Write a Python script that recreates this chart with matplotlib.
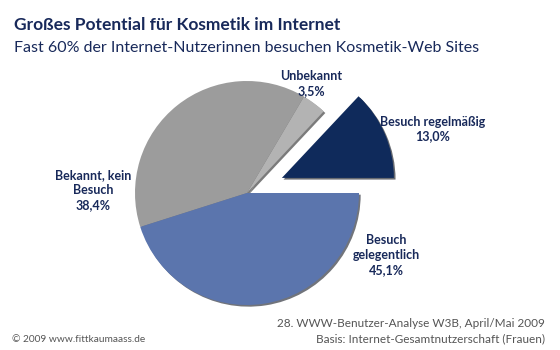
import matplotlib.pyplot as plt

# Data (percent of female internet users)
labels = ['Besuch regelmäßig', 'Unbekannt', 'Bekannt, kein\nBesuch', 'Besuch\ngelegentlich']
values = [13.0, 3.5, 38.4, 45.1]
colors = ['#0f2a5b', '#b3b3b3', '#9c9c9c', '#5b75ad']
explode = [38, 0, 0, 0]

plt.rcParams['font.family'] = ['Lato', 'DejaVu Sans']
navy = '#18295a'

fig = plt.figure(figsize=(5.6, 3.5), dpi=100)
ax = fig.add_axes([0, 0, 1, 1])

# work in pixel units, y pointing up
wedges, _ = ax.pie(values, colors=colors, explode=explode, startangle=0,
                   counterclock=True, center=(247, 157), radius=112,
                   shadow={'ox': 1.2, 'oy': -1.2, 'shade': 0.8, 'alpha': 0.6},
                   wedgeprops={'linewidth': 0})
ax.set_xlim(0, 560)
ax.set_ylim(0, 350)
ax.set_aspect('equal')
ax.axis('off')

fmt = lambda v: f'{v:.1f}%'.replace('.', ',')
lbl = dict(ha='center', va='center', fontsize=9, fontweight='bold', color=navy, linespacing=1.3)
ax.text(433, 350 - 129, f'{labels[0]}\n{fmt(values[0])}', **lbl)
ax.text(311, 350 - 84, f'{labels[1]}\n{fmt(values[1])}', **lbl)
ax.text(93, 350 - 190, f'{labels[2]}\n{fmt(values[2])}', **lbl)
ax.text(386, 350 - 255, f'{labels[3]}\n{fmt(values[3])}', **lbl)

# titles
fig.text(14 / 560, 1 - 30 / 350, 'Großes Potential für Kosmetik im Internet',
         fontsize=12.5, fontweight='bold', color=navy, ha='left', va='baseline')
fig.text(14 / 560, 1 - 52 / 350, 'Fast 60% der Internet-Nutzerinnen besuchen Kosmetik-Web Sites',
         fontsize=11.5, color=navy, ha='left', va='baseline')

# footer
foot = dict(fontsize=8.5, color='#555555', va='baseline')
fig.text(12 / 560, 1 - 342 / 350, '© 2009 www.fittkaumaass.de', ha='left',
         fontsize=7.3, color='#555555', va='baseline')
fig.text(545 / 560, 1 - 327 / 350, '28. WWW-Benutzer-Analyse W3B, April/Mai 2009', ha='right', **foot)
fig.text(545 / 560, 1 - 342 / 350, 'Basis: Internet-Gesamtnutzerschaft (Frauen)', ha='right', **foot)

fig.savefig('out.png', dpi=100)
